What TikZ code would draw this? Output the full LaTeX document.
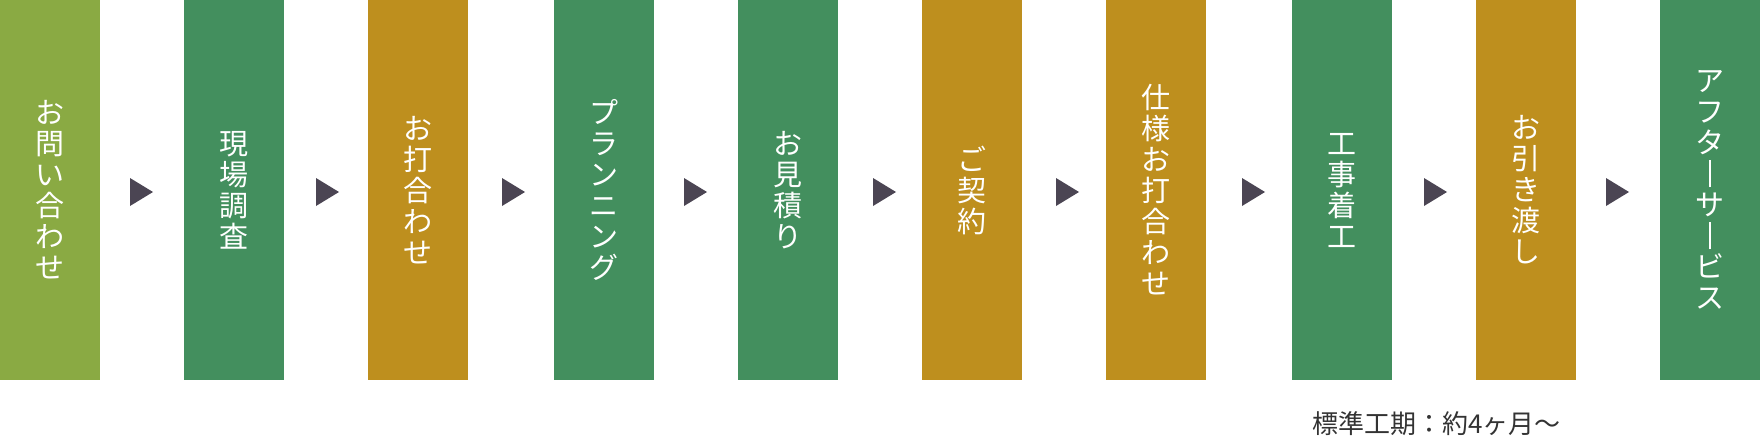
\documentclass[tikz,border=0pt]{standalone}
\usepackage{fontspec}
\setmainfont{Noto Sans CJK JP}
\definecolor{olivec}{HTML}{8AAA43}
\definecolor{greenc}{HTML}{438F5E}
\definecolor{goldc}{HTML}{BE8F1E}
\definecolor{arrowc}{HTML}{4B4553}
\definecolor{notec}{HTML}{333333}
\newcommand{\vbar}{\makebox[1em]{\rule[-0.095em]{1.8pt}{0.95em}}}
\tikzset{
  x=1pt, y=-1pt,
  bar/.style={rectangle, draw=none, inner sep=0pt, minimum width=100pt, minimum height=380pt,
    text=white, align=center, font=\fontsize{29}{31}\selectfont},
  tri/.pic={\fill[arrowc] (-11.5,-14) -- (11.5,0) -- (-11.5,14) -- cycle;},
  note/.style={anchor=base west, inner sep=0pt, text=notec, font=\fontsize{26}{26}\selectfont}
}
\begin{document}
\begin{tikzpicture}
\useasboundingbox (0,0) rectangle (1760,440);
\node[bar, fill=olivec] (b1) at (50,190) {お\\問\\い\\合\\わ\\せ};
\node[bar, fill=greenc] (b2) at (234,190) {現\\場\\調\\査};
\node[bar, fill=goldc] (b3) at (418,190) {お\\打\\合\\わ\\せ};
\node[bar, fill=greenc] (b4) at (604,190) {プ\\ラ\\ン\\ニ\\ン\\グ};
\node[bar, fill=greenc] (b5) at (788,190) {お\\見\\積\\り};
\node[bar, fill=goldc] (b6) at (972,190) {ご\\契\\約};
\node[bar, fill=goldc] (b7) at (1156,190) {仕\\様\\お\\打\\合\\わ\\せ};
\node[bar, fill=greenc] (b8) at (1342,190) {工\\事\\着\\工};
\node[bar, fill=goldc] (b9) at (1526,190) {お\\引\\き\\渡\\し};
\node[bar, fill=greenc] (b10) at (1710,190) {ア\\フ\\タ\\\vbar\\サ\\\vbar\\ビ\\ス};
\pic (a1) at (141.5,192) {tri};
\pic (a2) at (327.5,192) {tri};
\pic (a3) at (513.5,192) {tri};
\pic (a4) at (695.5,192) {tri};
\pic (a5) at (884.5,192) {tri};
\pic (a6) at (1067.5,192) {tri};
\pic (a7) at (1253.5,192) {tri};
\pic (a8) at (1435.5,192) {tri};
\pic (a9) at (1617.5,192) {tri};
\node[note] (n1) at (1312,433) {標準工期：約4ヶ月〜};
\end{tikzpicture}
\end{document}
